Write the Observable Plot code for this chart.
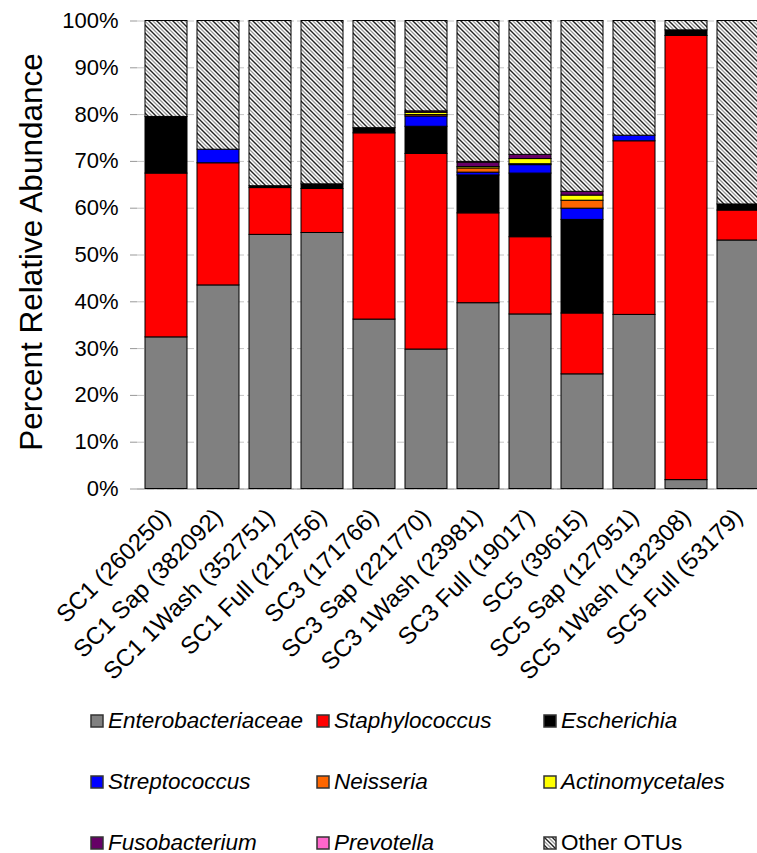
<!DOCTYPE html>
<html>
<head>
<meta charset="utf-8">
<script src="https://cdn.jsdelivr.net/npm/d3@7"></script>
<script src="https://cdn.jsdelivr.net/npm/@observablehq/plot@0.6"></script>
<style>
  html, body { margin: 0; padding: 0; background: #fff; overflow: hidden; }
  #chart { width: 757px; }
  .legend {
    display: grid;
    grid-template-columns: 226px 227px 220px;
    grid-auto-rows: 61px;
    padding-left: 90px;
    font-family: "Liberation Sans", Arial, sans-serif;
    font-size: 22.5px;
    color: #000;
  }
  .legend .item { display: flex; align-items: center; white-space: nowrap; }
  .legend .swatch { width: 14px; height: 14px; margin-right: 4px; flex: none; }
  .legend .italic { font-style: italic; }
</style>
</head>
<body>
<div id="chart"></div>
<script>
// Samples (with read counts) along the x axis
const samples = [
  "SC1 (260250)", "SC1 Sap (382092)", "SC1 1Wash (352751)", "SC1 Full (212756)",
  "SC3 (171766)", "SC3 Sap (221770)", "SC3 1Wash (23981)", "SC3 Full (19017)",
  "SC5 (39615)", "SC5 Sap (127951)", "SC5 1Wash (132308)", "SC5 Full (53179)"
];

// Percent relative abundance of each taxon per sample
const enterobacteriaceae = [32.4, 43.5, 54.3, 54.7, 36.2, 29.8, 39.7, 37.3, 24.5, 37.2, 1.9, 53.1];
const staphylococcus     = [35.0, 26.1, 10.0, 9.4, 39.8, 41.8, 19.2, 16.5, 13.0, 37.1, 94.9, 6.4];
const escherichia        = [12.1, 0, 0.4, 1.0, 1.1, 5.8, 8.1, 13.6, 20.0, 0, 1.2, 1.3];
const streptococcus      = [0, 2.9, 0, 0, 0, 2.2, 0.6, 1.8, 2.4, 1.2, 0, 0];
const neisseria          = [0, 0, 0, 0, 0, 0.3, 0.9, 0.2, 1.7, 0, 0, 0];
const actinomycetales    = [0, 0, 0, 0, 0, 0.5, 0.3, 1.1, 1.1, 0, 0, 0];
const fusobacterium      = [0, 0, 0, 0, 0, 0.3, 0.9, 0.9, 0.8, 0, 0, 0];
const prevotella         = [0, 0, 0, 0, 0, 0, 0.2, 0, 0, 0, 0, 0];
const otherOTUs          = [20.5, 27.5, 35.3, 34.9, 22.9, 19.3, 30.1, 28.6, 36.5, 24.5, 2.0, 39.2];

// Taxa in stacking order (bottom to top) and their fills
const taxa = ["Enterobacteriaceae", "Staphylococcus", "Escherichia", "Streptococcus",
  "Neisseria", "Actinomycetales", "Fusobacterium", "Prevotella", "Other OTUs"];
const taxaSeries = [enterobacteriaceae, staphylococcus, escherichia, streptococcus,
  neisseria, actinomycetales, fusobacterium, prevotella, otherOTUs];
const taxaFills = ["#808080", "#ff0000", "#000000", "#0000ff", "#ff6600",
  "#ffff00", "#660066", "#ff66cc", "url(#otu-hatch)"];
const italicTaxa = taxa.slice(0, 8);

// Legend order: three rows of three
const legendOrder = ["Enterobacteriaceae", "Staphylococcus", "Escherichia",
  "Streptococcus", "Neisseria", "Actinomycetales",
  "Fusobacterium", "Prevotella", "Other OTUs"];

const yTicks = [0, 10, 20, 30, 40, 50, 60, 70, 80, 90, 100];

// Tidy rows: one per sample and taxon, in stacking order
const rows = [];
samples.forEach((sample, i) => {
  taxa.forEach((taxon, k) => {
    const value = taxaSeries[k][i];
    if (value > 0) rows.push({sample, taxon, value});
  });
});

const font = "'Liberation Sans', Arial, sans-serif";

const chart = Plot.plot({
  width: 757,
  height: 690,
  marginTop: 20.5,
  marginBottom: 201.5,
  marginLeft: 137,
  marginRight: -10.5,
  style: {fontFamily: font, fontSize: "22px", color: "#000", background: "#fff"},
  x: {domain: samples, paddingInner: 0.19, paddingOuter: 0.095, label: null},
  y: {domain: [0, 100], label: null},
  color: {domain: taxa, range: taxaFills},
  marks: [
    Plot.gridY(yTicks, {stroke: "#c4c4c4", strokeOpacity: 1, strokeDasharray: "7,3"}),
    Plot.ruleY([0], {stroke: "#9a9a9a"}),
    Plot.barY(rows, Plot.stackY({
      x: "sample", y: "value", fill: "taxon",
      stroke: "#000", strokeWidth: 1
    })),
    Plot.axisY(yTicks, {
      tickSize: 7, tickPadding: 12, stroke: "#999",
      tickFormat: d => d + "%", fontSize: 22, label: null
    }),
    Plot.axisX({
      tickRotate: -45, tickSize: 0, tickPadding: 8, fontSize: 24, label: null,
      dx: 0, dy: 16
    }),
    Plot.text(["Percent Relative Abundance"], {
      frameAnchor: "left", textAnchor: "middle", rotate: -90, dx: -106, dy: -3, fontSize: 31.5
    })
  ]
});

// Diagonal hatching used for the "Other OTUs" segments
const defs = d3.select(chart).insert("defs", ":first-child");
const pat = defs.append("pattern")
  .attr("id", "otu-hatch")
  .attr("patternUnits", "userSpaceOnUse")
  .attr("width", 8).attr("height", 8);
pat.append("rect").attr("width", 8).attr("height", 8).attr("fill", "#fff");
pat.append("path")
  .attr("d", "M-1,-1 L9,9 M7,-1 L9,1 M-1,7 L1,9")
  .attr("stroke", "#222").attr("stroke-width", 1.4);
pat.append("path")
  .attr("d", "M3,-1 L9,5 M-1,3 L5,9")
  .attr("stroke", "#999").attr("stroke-width", 1.3);

const container = document.getElementById("chart");
container.appendChild(chart);

// Legend below the chart
const legend = d3.select(container).append("div").attr("class", "legend");
const fillOf = t => taxaFills[taxa.indexOf(t)];
legendOrder.forEach(t => {
  const item = legend.append("div").attr("class", "item");
  const sw = item.append("svg").attr("class", "swatch").attr("width", 14).attr("height", 14);
  sw.append("rect").attr("x", 1).attr("y", 1).attr("width", 12).attr("height", 12)
    .attr("fill", fillOf(t)).attr("stroke", "#333").attr("stroke-width", 1.5);
  item.append("span").attr("class", italicTaxa.includes(t) ? "italic" : null).text(t);
});
</script>
</body>
</html>
